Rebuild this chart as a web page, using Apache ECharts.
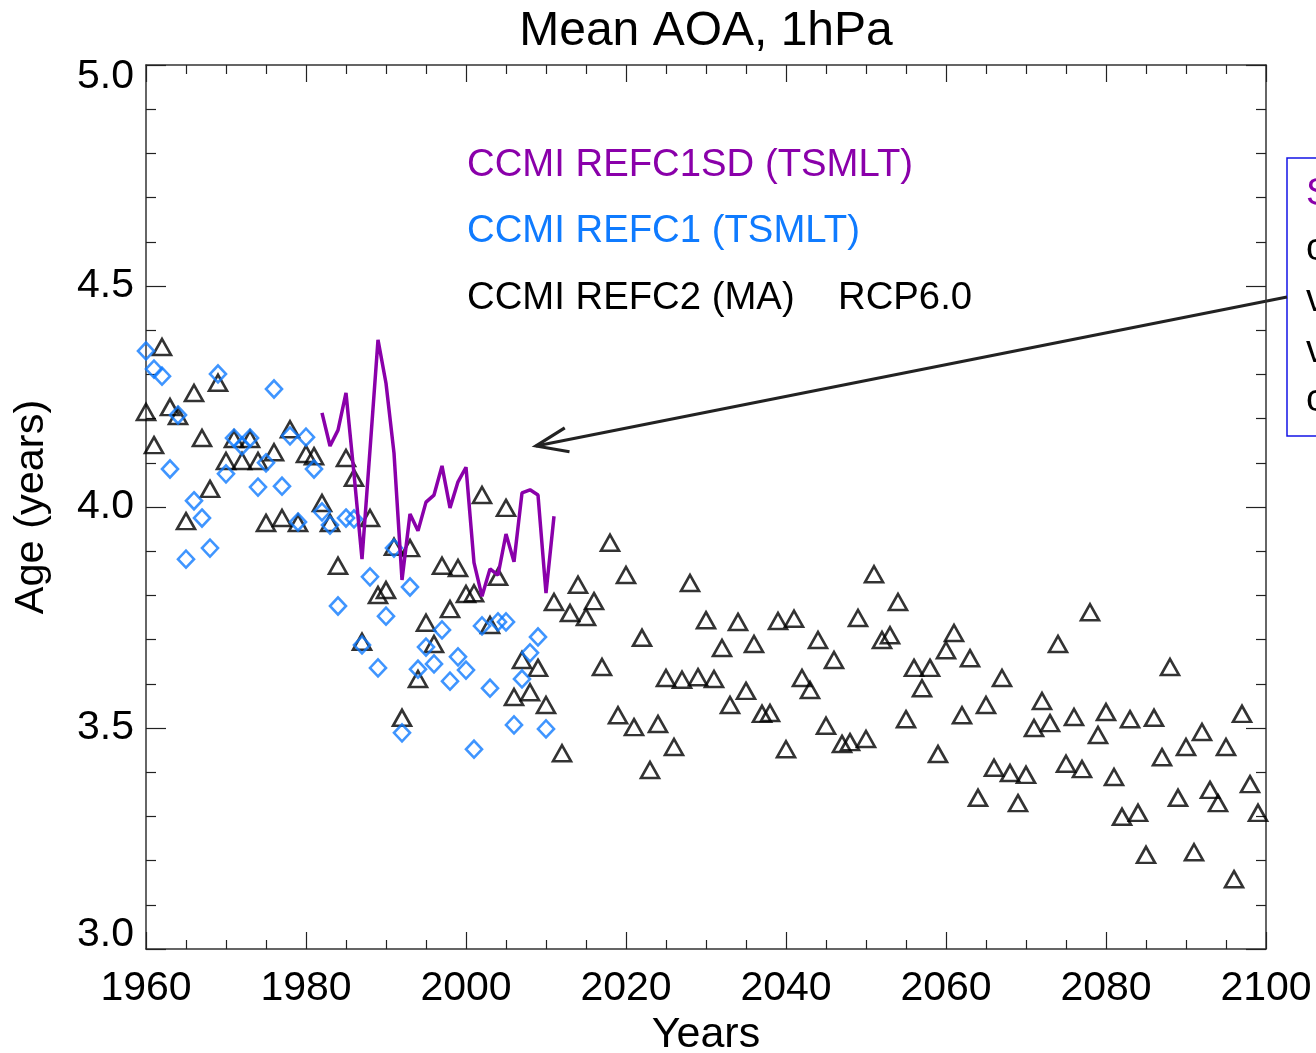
<!DOCTYPE html>
<html>
<head>
<meta charset="utf-8">
<script src="https://cdn.jsdelivr.net/npm/echarts@6.0.0/dist/echarts.min.js"></script>
<style>
html,body{margin:0;padding:0;background:#fff;}
#chart{width:1316px;height:1053px;}
</style>
</head>
<body>
<div id="chart"></div>
<script>
// ---------------- DATA ----------------
const titleText = 'Mean AOA, 1hPa';
const xName = 'Years';
const yName = 'Age (years)';

// CCMI REFC2 (MA) RCP6.0 — one value per year starting 1960
const refc2Start = 1960;
const refc2 = [
  4.215, 4.140, 4.362, 4.226, 4.206, 3.968, 4.258, 4.156, 4.041, 4.281, // 1960-1969
  4.104, 4.154, 4.104, 4.154, 4.104, 3.964, 4.124, 3.975, 4.176, 3.964, // 1970-1979
  4.120, 4.115, 4.009, 3.964, 3.867, 4.111, 4.066, 3.695, 3.975, 3.801, // 1980-1989
  3.812, 3.910, 3.523, 3.907, 3.611, 3.738, 3.690, 3.867, 3.769, 3.862, // 1990-1999
  3.803, 3.805, 4.027, 3.733, 3.842, 3.998, 3.570, 3.654, 3.581, 3.636, // 2000-2009
  3.552, 3.785, 3.443, 3.760, 3.824, 3.751, 3.787, 3.638, 3.919, 3.529, // 2010-2019
  3.846, 3.502, 3.704, 3.405, 3.509, 3.613, 3.457, 3.609, 3.828, 3.615, // 2020-2029
  3.744, 3.611, 3.681, 3.552, 3.740, 3.584, 3.690, 3.532, 3.534, 3.742, // 2030-2039
  3.452, 3.747, 3.613, 3.586, 3.699, 3.505, 3.654, 3.464, 3.468, 3.749, // 2040-2049
  3.475, 3.848, 3.699, 3.710, 3.785, 3.520, 3.636, 3.590, 3.636, 3.441, // 2050-2059
  3.676, 3.715, 3.529, 3.658, 3.342, 3.552, 3.410, 3.613, 3.398, 3.330, // 2060-2069
  3.394, 3.500, 3.561, 3.511, 3.690, 3.419, 3.525, 3.407, 3.762, 3.484, // 2070-2079
  3.536, 3.389, 3.299, 3.520, 3.308, 3.213, 3.523, 3.434, 3.638, 3.342, // 2080-2089
  3.457, 3.219, 3.491, 3.360, 3.330, 3.457, 3.158, 3.532, 3.373, 3.308  // 2090-2099
];

// CCMI REFC1 (TSMLT) — one value per year starting 1960
const refc1Start = 1960;
const refc1 = [
  4.353, 4.312, 4.296, 4.086, 4.208, 3.882, 4.014, 3.975, 3.907, 4.301, // 1960-1969
  4.075, 4.156, 4.138, 4.156, 4.045, 4.100, 4.267, 4.047, 4.161, 3.966, // 1970-1979
  4.158, 4.086, 3.989, 3.959, 3.776, 3.975, 3.973, 3.688, 3.842, 3.636, // 1980-1989
  3.753, 3.907, 3.489, 3.819, 3.633, 3.683, 3.645, 3.722, 3.606, 3.661, // 1990-1999
  3.631, 3.452, 3.731, 3.590, 3.740, 3.740, 3.507, 3.611, 3.670, 3.706, // 2000-2009
  3.498                                                                  // 2010
];

// CCMI REFC1SD (TSMLT) — one value per year starting 1982
const refc1sdStart = 1982;
const refc1sd = [
  4.213, 4.138, 4.174, 4.258, 4.075, 3.882, 4.129, 4.378,               // 1982-1989
  4.280, 4.122, 3.835, 3.984, 3.946, 4.011, 4.027, 4.093, 3.998, 4.057, // 1990-1999
  4.090, 3.874, 3.798, 3.860, 3.846, 3.939, 3.876, 4.032, 4.039, 4.027, // 2000-2009
  3.805, 3.979                                                           // 2010-2011
];

const xTicks = { min: 1960, max: 2100, step: 20 };
const yTicks = { min: 3.0, max: 5.0, step: 0.5 };

const legendLines = [
  { text: 'CCMI REFC1SD (TSMLT)', color: '#8a00aa' },
  { text: 'CCMI REFC1 (TSMLT)', color: '#0f7bff' },
  { text: 'CCMI REFC2 (MA)', color: '#000000' }
];
const scenarioText = 'RCP6.0';
const boxLetters = [
  { text: 'S', color: '#8a00aa' },
  { text: 'c', color: '#000' },
  { text: 'v', color: '#000' },
  { text: 'v', color: '#000' },
  { text: 'c', color: '#000' }
];

// ---------------- BUILD ----------------
const toPairs = (start, arr) => arr.map((v, i) => [start + i, v]);

const FONT = '"Liberation Sans", Arial, Helvetica, sans-serif';
const axisLineStyle = { color: '#333', width: 1.5 };
const tickStyle = { color: '#222', width: 1.2 };
const LABEL_SIZE = 41;

function xAxisCfg(pos, showLabels) {
  return {
    type: 'value', position: pos, min: xTicks.min, max: xTicks.max, interval: xTicks.step,
    axisLine: { show: true, onZero: false, lineStyle: axisLineStyle },
    axisTick: { show: true, inside: true, length: 17, lineStyle: tickStyle },
    minorTick: { show: true, splitNumber: 4, length: 9, lineStyle: tickStyle },
    splitLine: { show: false }, minorSplitLine: { show: false },
    axisLabel: { show: showLabels, fontSize: LABEL_SIZE, color: '#000', fontFamily: FONT, margin: 19,
      formatter: v => String(v) },
    name: showLabels ? xName : '',
    nameLocation: 'middle', nameGap: 58,
    nameTextStyle: { fontSize: 43, color: '#000', fontFamily: FONT }
  };
}
function yAxisCfg(pos, showLabels) {
  return {
    type: 'value', position: pos, min: yTicks.min, max: yTicks.max, interval: yTicks.step,
    axisLine: { show: true, onZero: false, lineStyle: axisLineStyle },
    axisTick: { show: true, inside: true, length: 20, lineStyle: tickStyle },
    minorTick: { show: true, splitNumber: 5, length: 10, lineStyle: tickStyle },
    splitLine: { show: false }, minorSplitLine: { show: false },
    axisLabel: { show: showLabels, fontSize: LABEL_SIZE, color: '#000', fontFamily: FONT, margin: 12,
      formatter: v => {
        const s = v.toFixed(1);
        if (Math.abs(v - yTicks.max) < 1e-6) return '{mx|' + s + '}';
        if (Math.abs(v - yTicks.min) < 1e-6) return '{mn|' + s + '}';
        return s;
      },
      rich: {
        mx: { fontSize: LABEL_SIZE, fontFamily: FONT, color: '#000', padding: [24, 0, 0, 0] },
        mn: { fontSize: LABEL_SIZE, fontFamily: FONT, color: '#000', padding: [0, 0, 28, 0] }
      }
    },
    name: showLabels ? yName : '',
    nameLocation: 'middle', nameGap: 93, nameRotate: 90,
    nameTextStyle: { fontSize: 41.5, color: '#000', fontFamily: FONT }
  };
}

// arrow geometry (annotation)
const arrowTail = [1287, 297];
const arrowHead = [536, 446];
function wing(angleDeg, len) {
  const dx = arrowTail[0] - arrowHead[0], dy = arrowTail[1] - arrowHead[1];
  const base = Math.atan2(dy, dx) + angleDeg * Math.PI / 180;
  return [arrowHead[0] + len * Math.cos(base), arrowHead[1] + len * Math.sin(base)];
}

const graphics = [];
// title centred over the plot area
graphics.push({ type: 'text', x: 706, y: 8, silent: true,
  style: { text: titleText, fill: '#000', font: '48px ' + FONT, textAlign: 'center' } });
legendLines.forEach((l, i) => {
  graphics.push({ type: 'text', left: 467, top: 146 + i * 66.5, silent: true,
    style: { text: l.text, fill: l.color, font: '38.3px ' + FONT } });
});
graphics.push({ type: 'text', left: 838, top: 279, silent: true,
  style: { text: scenarioText, fill: '#000', font: '38.3px ' + FONT } });
// annotation box
graphics.push({ type: 'rect', shape: { x: 1287, y: 158, width: 80, height: 278 }, silent: true,
  style: { fill: '#fff', stroke: '#1414e6', lineWidth: 1.5 } });
boxLetters.forEach((b, i) => {
  const ys = [176, 231, 282, 333, 382];
  graphics.push({ type: 'text', x: 1306, y: ys[i], silent: true,
    style: { text: b.text, fill: b.color, font: '38px ' + FONT } });
});
// arrow
graphics.push({ type: 'line', silent: true, shape: { x1: arrowTail[0], y1: arrowTail[1], x2: arrowHead[0], y2: arrowHead[1] },
  style: { stroke: '#222', lineWidth: 3.2 } });
const w1 = wing(21, 34), w2 = wing(-21, 34);
graphics.push({ type: 'polyline', silent: true, shape: { points: [w1, arrowHead, w2] },
  style: { stroke: '#222', lineWidth: 3.2, fill: null } });

const chart = echarts.init(document.getElementById('chart'), null, { renderer: 'canvas' });
chart.setOption({
  animation: false,
  backgroundColor: '#fff',
  grid: { left: 146, top: 65, right: 50, bottom: 104, containLabel: false, outerBoundsMode: 'none' },
  xAxis: [xAxisCfg('bottom', true), xAxisCfg('top', false)],
  yAxis: [yAxisCfg('left', true), yAxisCfg('right', false)],
  series: [
    { name: 'CCMI REFC2 (MA)', type: 'scatter', clip: false, data: toPairs(refc2Start, refc2),
      symbol: 'triangle', symbolSize: [18, 16],
      itemStyle: { color: 'rgba(0,0,0,0)', borderColor: '#000', borderWidth: 2.6 }, z: 2 },
    { name: 'CCMI REFC1 (TSMLT)', type: 'scatter', clip: false, data: toPairs(refc1Start, refc1),
      symbol: 'diamond', symbolSize: [16, 17],
      itemStyle: { color: 'rgba(0,0,0,0)', borderColor: '#0f7bff', borderWidth: 2.6 }, z: 3 },
    { name: 'CCMI REFC1SD (TSMLT)', type: 'line', data: toPairs(refc1sdStart, refc1sd),
      showSymbol: false, symbol: 'none',
      lineStyle: { color: '#8a00aa', width: 3.5 }, z: 4 }
  ],
  graphic: graphics
});
</script>
</body>
</html>
